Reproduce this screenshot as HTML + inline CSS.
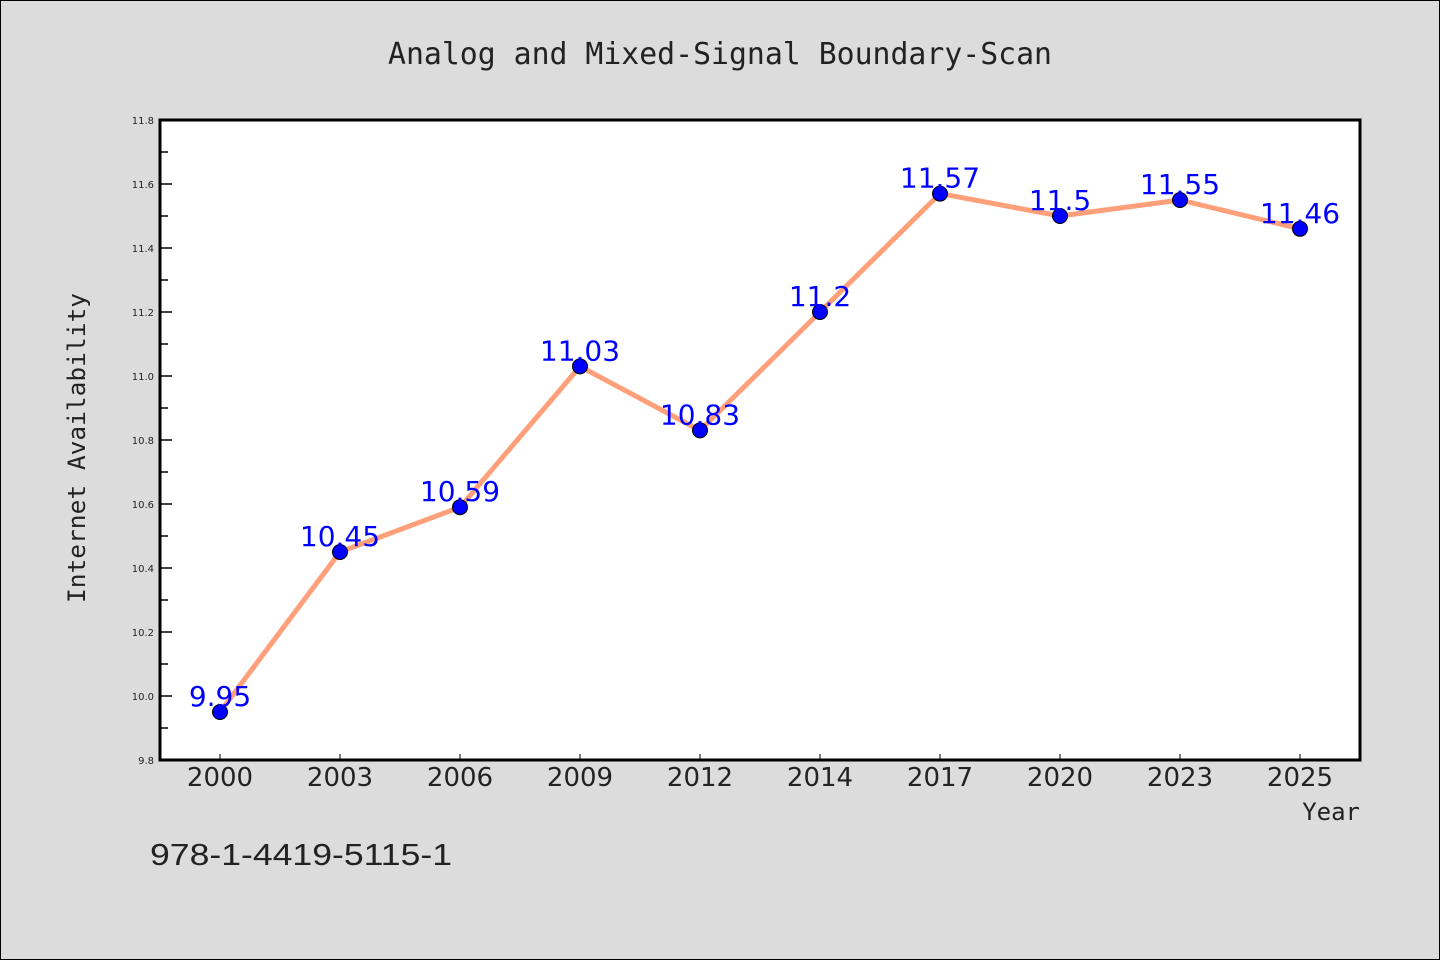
<!DOCTYPE html>
<html><head><meta charset="utf-8"><style>
html,body{margin:0;padding:0;background:#dcdcdc;}
svg{display:block;}
text{fill:#222;}
</style></head><body>
<svg id="chart" width="1440" height="960" xmlns="http://www.w3.org/2000/svg">
<rect x="0.5" y="0.5" width="1439" height="959" fill="#dcdcdc" stroke="#000" stroke-width="1"/>
<text x="388" y="64" textLength="664" lengthAdjust="spacingAndGlyphs" font-family="WenQuanYi Zen Hei Mono, DejaVu Sans Mono, monospace" font-size="30">Analog and Mixed-Signal Boundary-Scan</text>
<rect x="160" y="120" width="1200" height="640" fill="#fff"/>
<g id="yticks"></g>
<g id="xticks"></g>
<g id="series"></g>
<rect x="160" y="120" width="1200" height="640" fill="none" stroke="#000" stroke-width="3"/>
<text transform="translate(85,448) rotate(-90)" text-anchor="middle" font-family="WenQuanYi Zen Hei Mono, DejaVu Sans Mono, monospace" font-size="24" textLength="310" lengthAdjust="spacingAndGlyphs">Internet Availability</text>
<text x="1360" y="820" text-anchor="end" font-family="WenQuanYi Zen Hei Mono, DejaVu Sans Mono, monospace" font-size="24">Year</text>
<text x="150" y="865" textLength="302" lengthAdjust="spacingAndGlyphs" font-family="WenQuanYi Zen Hei, Liberation Sans, sans-serif" font-size="31">978-1-4419-5115-1</text>
</svg>
<script>
const categories = ["2000","2003","2006","2009","2012","2014","2017","2020","2023","2025"];
const values = [9.95,10.45,10.59,11.03,10.83,11.2,11.57,11.5,11.55,11.46];
const yTickLabels = ["9.8","10.0","10.2","10.4","10.6","10.8","11.0","11.2","11.4","11.6","11.8"];
const yMin = 9.8, yMax = 11.8;
const L=160,R=1360,T=120,B=760;
const NS="http://www.w3.org/2000/svg";
function y(v){return B-(v-yMin)/(yMax-yMin)*(B-T);}
function x(i){return L+(i+0.5)*(R-L)/categories.length;}
function mk(tag,attrs,parent){const e=document.createElementNS(NS,tag);for(const k in attrs)e.setAttribute(k,attrs[k]);parent.appendChild(e);return e;}
const yt=document.getElementById('yticks');
yTickLabels.forEach((lab,i)=>{
  const v=parseFloat(lab);const yy=y(v);
  const t=mk('line',{x1:L,x2:L+12,y1:yy,y2:yy,stroke:'#000','stroke-width':1.5},yt);
  
  
  const tx=mk('text',{x:L-6,y:yy+4,'text-anchor':'end','font-family':'DejaVu Sans, sans-serif','font-size':10},yt);
  tx.textContent=lab;
  
  
  if(i<yTickLabels.length-1){
    const ym=y(v+0.1);
    const m=mk('line',{x1:L,x2:L+8,y1:ym,y2:ym,stroke:'#000','stroke-width':1.5},yt);
    
    
  }
});
const xt=document.getElementById('xticks');
categories.forEach((c,i)=>{
  const xx=x(i);
  const t=mk('line',{x1:xx,x2:xx,y1:B,y2:B-6,stroke:'#000','stroke-width':1},xt);
  
  
  const tx=mk('text',{x:xx,y:B+26,'text-anchor':'middle','font-family':'WenQuanYi Zen Hei, DejaVu Sans, sans-serif','font-size':26},xt);
  tx.textContent=c;
  
  
});
const s=document.getElementById('series');
const pl=mk('polyline',{points:values.map((v,i)=>x(i)+','+y(v)).join(' '),fill:'none',stroke:'#ffa07a','stroke-width':5,'stroke-linejoin':'round'},s);


values.forEach((v,i)=>{
  const c=mk('circle',{cx:x(i),cy:y(v),r:7.5,fill:'#0000ff',stroke:'#000','stroke-width':1},s);
  
  
});
values.forEach((v,i)=>{
  const t=mk('text',{x:x(i),y:y(v)-6,'text-anchor':'middle','font-family':'WenQuanYi Zen Hei, DejaVu Sans, sans-serif','font-size':28,fill:'#0000ff'},s);
  t.style.fill='#0000ff';
  t.textContent=String(v);
  
  
});
</script>
</body></html>
